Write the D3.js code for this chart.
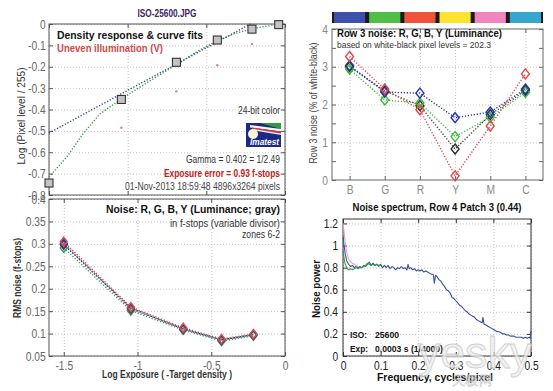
<!DOCTYPE html>
<html>
<head>
<meta charset="utf-8">
<script src="https://cdn.jsdelivr.net/npm/d3@7/dist/d3.min.js"></script>
<style>
body { margin: 0; background: #fff; }
svg { display: block; }
.grid line { stroke: #c4c4c4; stroke-dasharray: 1,2; }
.grid .domain { display: none; }
</style>
</head>
<body>
<svg id="chart" width="553" height="391"></svg>
<script>
// density response (top left)
var zoneLogExp = [-1.5, -1.04, -0.69, -0.43, -0.21, -0.04],
    zoneDensity = [-0.744, -0.353, -0.179, -0.075, -0.024, -0.003],
    unevenLogExp = [-1.04, -0.69, -0.43, -0.21],
    unevenDensity = [-0.485, -0.315, -0.193, -0.094],
    fitLogExp = [-1.5, -0.22],
    fitDensity = [-0.51, 0.0],
    curveLogExp = [-1.5, -1.385, -1.28, -1.175, -1.04, -0.9, -0.69, -0.55, -0.43, -0.32, -0.21, -0.1, -0.04],
    curveDensity = [-0.716, -0.62, -0.51, -0.42, -0.35, -0.285, -0.19, -0.125, -0.078, -0.045, -0.022, -0.008, -0.002],
    densityTicks = [-0.8, -0.7, -0.6, -0.5, -0.4, -0.3, -0.2, -0.1, 0];

// noise in f-stops (bottom left)
var noiseLogExp = [-1.5, -1.045, -0.69, -0.43, -0.214],
    noiseR = [0.305, 0.159, 0.113, 0.088, 0.099],
    noiseG = [0.291, 0.151, 0.108, 0.083, 0.095],
    noiseB = [0.298, 0.157, 0.110, 0.086, 0.098],
    noiseY = [0.301, 0.155, 0.111, 0.086, 0.097],
    noiseTicks = [0.05, 0.1, 0.15, 0.2, 0.25, 0.3, 0.35, 0.4],
    exposureTicks = [-1.5, -1, -0.5, 0];

// row 3 noise (top right)
var patchNames = ['B', 'G', 'R', 'Y', 'M', 'C'],
    patchColors = ['#3d50ae', '#50bf48', '#f0533a', '#fde42c', '#f384c0', '#37a6cf'],
    rowNoiseR = [3.27, 2.41, 1.86, 0.11, 1.43, 2.81],
    rowNoiseG = [2.94, 2.12, 2.04, 1.15, 1.66, 2.32],
    rowNoiseB = [3.03, 2.33, 2.30, 1.65, 1.80, 2.41],
    rowNoiseY = [3.0, 2.36, 1.97, 0.82, 1.73, 2.37],
    rowNoiseTicks = [0, 0.5, 1, 1.5, 2, 2.5, 3, 3.5, 4];

// noise spectrum (bottom right)
var specFreq = [0, 0.003, 0.006, 0.01, 0.015, 0.02, 0.025, 0.03, 0.035, 0.04, 0.045, 0.05, 0.055, 0.06, 0.065, 0.07,
      0.075, 0.08, 0.085, 0.09, 0.095, 0.1, 0.105, 0.11, 0.115, 0.12, 0.125, 0.13, 0.135, 0.14, 0.145, 0.15, 0.155,
      0.16, 0.165, 0.17, 0.173, 0.176, 0.18, 0.185, 0.19, 0.195, 0.2, 0.205, 0.21, 0.215, 0.22, 0.225, 0.23, 0.235,
      0.24, 0.243, 0.246, 0.25, 0.255, 0.26, 0.265, 0.27, 0.275, 0.28, 0.285, 0.29, 0.295, 0.3, 0.305, 0.31, 0.315,
      0.32, 0.325, 0.33, 0.335, 0.34, 0.345, 0.35, 0.355, 0.36, 0.365, 0.37, 0.372, 0.375, 0.38, 0.385, 0.39, 0.395,
      0.4, 0.405, 0.41, 0.415, 0.42, 0.425, 0.43, 0.435, 0.44, 0.445, 0.45, 0.455, 0.46, 0.465, 0.47, 0.475, 0.48,
      0.485, 0.49, 0.495, 0.498, 0.5],
    specBlue = [1.08, 1.0, 0.92, 0.86, 0.83, 0.81, 0.82, 0.80, 0.81, 0.80, 0.81, 0.80, 0.82, 0.81, 0.83, 0.85,
      0.82, 0.84, 0.82, 0.83, 0.81, 0.83, 0.80, 0.82, 0.80, 0.82, 0.79, 0.81, 0.80, 0.78, 0.80, 0.79, 0.81,
      0.79, 0.80, 0.78, 0.83, 0.79, 0.80, 0.78, 0.79, 0.77, 0.78, 0.77, 0.78, 0.76, 0.77, 0.76, 0.75, 0.74,
      0.74, 0.66, 0.73, 0.72, 0.69, 0.68, 0.65, 0.63, 0.60, 0.59, 0.57, 0.53, 0.52, 0.50, 0.48, 0.46, 0.45,
      0.43, 0.41, 0.40, 0.38, 0.37, 0.36, 0.35, 0.33, 0.32, 0.31, 0.30, 0.35, 0.29, 0.28, 0.27, 0.26, 0.25,
      0.24, 0.23, 0.22, 0.22, 0.21, 0.20, 0.20, 0.19, 0.19, 0.18, 0.18, 0.18, 0.17, 0.17, 0.17, 0.17, 0.16,
      0.17, 0.16, 0.17, 0.16, 0.23],
    specGreenFreq = [0, 0.003, 0.006, 0.01, 0.015, 0.02, 0.025, 0.03, 0.035, 0.04, 0.045, 0.05, 0.055, 0.06,
      0.065, 0.07, 0.075, 0.08, 0.085, 0.09, 0.095, 0.1],
    specGreen = [0.95, 0.88, 0.83, 0.80, 0.78, 0.79, 0.78, 0.79, 0.80, 0.79, 0.80, 0.80, 0.81, 0.82,
      0.84, 0.83, 0.82, 0.83, 0.82, 0.83, 0.82, 0.82],
    specPinkFreq = [0, 0.003, 0.006, 0.01, 0.015, 0.02, 0.025, 0.03, 0.035, 0.04],
    specPink = [1.2, 1.12, 1.02, 0.94, 0.88, 0.85, 0.84, 0.83, 0.82, 0.81],
    specFreqTicks = [0, 0.1, 0.2, 0.3, 0.4, 0.5],
    specPowerTicks = [0, 0.2, 0.4, 0.6, 0.8, 1, 1.2];

var FONT = '"Liberation Sans", Arial, sans-serif';

var svg = d3.select('#chart');

function label(g, x, y, s, o) {
  o = o || {};
  var t = g.append('text')
    .attr('x', x).attr('y', y)
    .attr('font-family', FONT)
    .attr('font-size', o.size || 10)
    .attr('font-weight', o.bold ? 'bold' : 'normal')
    .attr('font-style', o.italic ? 'italic' : 'normal')
    .attr('fill', o.color || '#222')
    .attr('text-anchor', o.anchor || 'start')
    .text(s);
  if (o.rotate) t.attr('transform', 'rotate(-90,' + x + ',' + y + ')');
  if (o.width) t.attr('textLength', o.width).attr('lengthAdjust', 'spacingAndGlyphs');
  return t;
}

function num(d) {
  return String(+d.toFixed(2));
}

// tick numbers in the original are a narrow face, squeeze them horizontally
function styleAxis(sel, o) {
  sel.select('.domain').remove();
  sel.selectAll('.tick line').attr('stroke', o.frame);
  sel.selectAll('.tick text')
    .attr('font-family', FONT)
    .attr('font-size', o.tickSize || 11.5)
    .attr('fill', o.tickColor)
    .attr('transform', 'scale(0.82,1)');
}

// dotted grid, inward ticks on all four sides, box
function frame(g, x, y, o) {
  var xr = x.range(), yr = y.range(),
      w = xr[1] - xr[0], h = yr[0] - yr[1];

  g.append('g').attr('class', 'grid').attr('transform', 'translate(0,' + yr[0] + ')')
    .call(d3.axisBottom(x).tickValues(o.xGrid || o.xTicks).tickSize(-h).tickFormat(''));
  g.append('g').attr('class', 'grid').attr('transform', 'translate(' + xr[0] + ',0)')
    .call(d3.axisLeft(y).tickValues(o.yGrid || o.yTicks).tickSize(-w).tickFormat(''));

  g.append('g').attr('transform', 'translate(' + xr[0] + ',0)')
    .call(d3.axisLeft(y).tickValues(o.yTicks).tickSize(-4).tickSizeOuter(0).tickPadding(o.yPad || 4).tickFormat(o.yFormat || ''))
    .call(styleAxis, o);
  g.append('g').attr('transform', 'translate(' + xr[1] + ',0)')
    .call(d3.axisRight(y).tickValues(o.yTicks).tickSize(-4).tickSizeOuter(0).tickFormat(''))
    .call(styleAxis, o);
  g.append('g').attr('transform', 'translate(0,' + yr[0] + ')')
    .call(d3.axisBottom(x).tickValues(o.xTicks).tickSize(-4).tickSizeOuter(0).tickPadding(o.xPad || 6).tickFormat(o.xFormat || ''))
    .call(styleAxis, o);
  g.append('g').attr('transform', 'translate(0,' + yr[1] + ')')
    .call(d3.axisTop(x).tickValues(o.xTicks).tickSize(-4).tickSizeOuter(0).tickFormat(''))
    .call(styleAxis, o);

  g.append('rect')
    .attr('x', xr[0]).attr('y', yr[1]).attr('width', w).attr('height', h)
    .attr('fill', 'none').attr('stroke', o.frame).attr('stroke-width', 1);
}

function dotted(g, x, y, xs, ys, color) {
  var line = d3.line().x(function (d, i) { return x(xs[i]); }).y(function (d) { return y(d); });
  g.append('path').datum(ys)
    .attr('d', line)
    .attr('fill', 'none')
    .attr('stroke', color)
    .attr('stroke-width', 1.4)
    .attr('stroke-dasharray', '1.2,1.8');
}

function solid(g, x, y, xs, ys, color) {
  var line = d3.line().x(function (d, i) { return x(xs[i]); }).y(function (d) { return y(d); });
  g.append('path').datum(ys)
    .attr('d', line)
    .attr('fill', 'none')
    .attr('stroke', color)
    .attr('stroke-width', 1.1)
    .attr('stroke-linejoin', 'round');
}

function diamonds(g, x, y, xs, ys, color, hw, hh) {
  g.selectAll(null).data(ys).enter().append('path')
    .attr('d', function (d, i) {
      var cx = x(xs[i]), cy = y(d);
      return 'M' + cx + ',' + (cy - hh) + 'L' + (cx + hw) + ',' + cy + 'L' + cx + ',' + (cy + hh) + 'L' + (cx - hw) + ',' + cy + 'Z';
    })
    .attr('fill', 'none')
    .attr('stroke', color)
    .attr('stroke-width', 1.4);
}

// ---------- density response ----------
(function () {
  var g = svg.append('g'),
      x = d3.scaleLinear().domain([-1.5, 0]).range([49, 285]),
      y = d3.scaleLinear().domain([-0.8, 0]).range([195, 24]);

  frame(g, x, y, {
    xTicks: exposureTicks, yTicks: densityTicks, yFormat: num,
    frame: '#555', tickColor: '#666', tickSize: 12.5
  });

  dotted(g, x, y, curveLogExp, curveDensity, '#2f9a3e');
  dotted(g, x, y, fitLogExp, fitDensity, '#2c3f96');

  g.selectAll(null).data(unevenDensity).enter().append('circle')
    .attr('cx', function (d, i) { return x(unevenLogExp[i]); })
    .attr('cy', function (d) { return y(d); })
    .attr('r', 1.2)
    .attr('fill', '#e27a7a');

  g.selectAll(null).data(zoneDensity).enter().append('rect')
    .attr('x', function (d, i) { return x(zoneLogExp[i]) - 4; })
    .attr('y', function (d) { return y(d) - 4; })
    .attr('width', 8).attr('height', 8)
    .attr('fill', '#c4c4c4')
    .attr('stroke', '#333')
    .attr('stroke-width', 1.1);

  label(g, 167, 17, 'ISO-25600.JPG', { bold: true, size: 10, color: '#3d2466', anchor: 'middle', width: 59 });
  label(g, 57, 39, 'Density response & curve fits', { bold: true, size: 10.5, color: '#111', width: 146 });
  label(g, 57, 52, 'Uneven illumination (V)', { bold: true, size: 10, color: '#cf4a4a', width: 106 });
  label(g, 280, 114, '24-bit color', { size: 10.5, color: '#333', anchor: 'end', width: 42 });
  label(g, 280, 163, 'Gamma = 0.402 = 1/2.49', { size: 10.5, color: '#333', anchor: 'end', width: 94 });
  label(g, 280, 177, 'Exposure error = 0.93 f-stops', { bold: true, size: 10, color: '#c42020', anchor: 'end', width: 116 });
  label(g, 280, 190, '01-Nov-2013 18:59:48   4896x3264 pixels', { size: 10, color: '#444', anchor: 'end', width: 155 });
  label(g, 25, 116, 'Log (Pixel level / 255)', { size: 10.5, color: '#333', anchor: 'middle', rotate: true, width: 97 });

  // Imatest logo
  var logo = g.append('g').attr('transform', 'translate(246,123)');
  logo.append('rect').attr('width', 35).attr('height', 24).attr('fill', '#1c2a86');
  logo.append('polygon').attr('points', '14,0 35,0 35,6').attr('fill', '#2e9a3a');
  logo.append('polygon').attr('points', '4,2 35,6 35,8.5 4,4.5').attr('fill', '#f4f4f4');
  logo.append('polygon').attr('points', '6,4.5 35,8.5 35,10.5 6,6').attr('fill', '#d23a3a');
  logo.append('polygon').attr('points', '8,6 35,10.5 35,12 8,7.5').attr('fill', '#e8e8f0');
  logo.append('circle').attr('cx', 7).attr('cy', 11).attr('r', 5).attr('fill', '#fff6d6');
  label(logo, 33, 22, 'Imatest', { bold: true, italic: true, size: 8.5, color: '#fff', anchor: 'end', width: 29 });
})();

// ---------- noise in f-stops ----------
(function () {
  var g = svg.append('g'),
      x = d3.scaleLinear().domain([-1.6, 0]).range([49, 285]),
      y = d3.scaleLinear().domain([0.05, 0.4]).range([356, 199]);

  frame(g, x, y, {
    xTicks: exposureTicks, yTicks: noiseTicks, xFormat: num, yFormat: num,
    frame: '#555', tickColor: '#666', tickSize: 12.5, xPad: 5
  });

  dotted(g, x, y, noiseLogExp, noiseG, '#2e9e3a');
  dotted(g, x, y, noiseLogExp, noiseB, '#2828a6');
  dotted(g, x, y, noiseLogExp, noiseR, '#e04040');
  dotted(g, x, y, noiseLogExp, noiseY, '#555');
  diamonds(g, x, y, noiseLogExp, noiseG, '#3a9a4a', 3.5, 4.5);
  diamonds(g, x, y, noiseLogExp, noiseB, '#2a2aa0', 3.5, 4.5);
  diamonds(g, x, y, noiseLogExp, noiseY, '#5a3a5a', 3.5, 4.5);
  diamonds(g, x, y, noiseLogExp, noiseR, '#e04a5a', 3.5, 4.5);

  label(g, 280, 213, 'Noise: R, G, B, Y (Luminance; gray)', { bold: true, size: 10.5, color: '#111', anchor: 'end', width: 174 });
  label(g, 280, 227, 'in f-stops (variable divisor)', { size: 10.5, color: '#333', anchor: 'end', width: 110 });
  label(g, 280, 238, 'zones 6-2', { size: 10.5, color: '#333', anchor: 'end', width: 38 });
  label(g, 167, 378, 'Log Exposure ( -Target density )', { bold: true, size: 10, color: '#333', anchor: 'middle', width: 130 });
  label(g, 21, 278, 'RMS noise (f-stops)', { bold: true, size: 10, color: '#333', anchor: 'middle', rotate: true, width: 80 });
})();

// ---------- row 3 noise ----------
(function () {
  var g = svg.append('g'),
      x = d3.scaleLinear().domain([0.5, 6.5]).range([332, 543]),
      y = d3.scaleLinear().domain([0, 4]).range([180, 29]),
      idx = d3.range(1, patchNames.length + 1);

  // colour strip above the axes
  g.append('rect').attr('x', x(0.5)).attr('y', 12).attr('width', x(6.5) - x(0.5)).attr('height', 11).attr('fill', '#1a1a1a');
  g.selectAll(null).data(patchColors).enter().append('rect')
    .attr('x', function (d, i) { return x(i + 0.5) + 2; })
    .attr('y', 12)
    .attr('width', function (d, i) { return x(i + 1.5) - x(i + 0.5) - 4; })
    .attr('height', 11)
    .attr('fill', function (d) { return d; });

  frame(g, x, y, {
    xTicks: idx, yTicks: rowNoiseTicks, yGrid: [1, 2, 3],
    xFormat: function (d) { return patchNames[d - 1]; },
    yFormat: function (d) { return d % 1 === 0 ? String(d) : ''; },
    frame: '#666', tickColor: '#888', tickSize: 12.5, yPad: 5, xPad: 5
  });

  dotted(g, x, y, idx, rowNoiseY, '#444');
  dotted(g, x, y, idx, rowNoiseG, '#3cb83c');
  dotted(g, x, y, idx, rowNoiseB, '#2530b0');
  dotted(g, x, y, idx, rowNoiseR, '#e04848');
  diamonds(g, x, y, idx, rowNoiseY, '#333', 4, 5);
  diamonds(g, x, y, idx, rowNoiseG, '#3cb83c', 4, 5);
  diamonds(g, x, y, idx, rowNoiseB, '#2530b0', 4, 5);
  diamonds(g, x, y, idx, rowNoiseR, '#e04848', 4, 5);

  label(g, 337, 37, 'Row 3 noise: R, G, B, Y (Luminance)', { bold: true, size: 10, color: '#111', width: 165 });
  label(g, 337, 48, 'based on white-black pixel levels = 202.3', { size: 9.5, color: '#333', width: 154 });
  label(g, 317, 103, 'Row 3 noise (% of white-black)', { size: 10.5, color: '#444', anchor: 'middle', rotate: true, width: 121 });
})();

// ---------- noise spectrum ----------
(function () {
  var g = svg.append('g'),
      x = d3.scaleLinear().domain([0, 0.5]).range([343, 531]),
      y = d3.scaleLinear().domain([0, 1.24]).range([356, 219]);

  frame(g, x, y, {
    xTicks: specFreqTicks, yTicks: specPowerTicks, xFormat: num, yFormat: num,
    frame: '#333', tickColor: '#222', tickSize: 12.5, yPad: 6, xPad: 5
  });

  solid(g, x, y, specFreq, specBlue, '#3b4f9c');
  solid(g, x, y, specPinkFreq, specPink, '#e6a2c4');
  solid(g, x, y, specGreenFreq, specGreen, '#3a9a3a');

  label(g, 350, 338, 'ISO:', { bold: true, size: 9.5, color: '#111', width: 17 });
  label(g, 375, 338, '25600', { bold: true, size: 9.5, color: '#111', width: 24 });
  label(g, 350, 352, 'Exp:', { bold: true, size: 9.5, color: '#111', width: 18 });
  label(g, 375, 352, '0.0003 s  (1/4000)', { bold: true, size: 9.5, color: '#111', width: 68 });

  label(g, 437, 211, 'Noise spectrum, Row 4 Patch 3 (0.44)', { bold: true, size: 10, color: '#111', anchor: 'middle', width: 169 });
  label(g, 435, 381, 'Frequency, cycles/pixel', { bold: true, size: 10.5, color: '#111', anchor: 'middle', width: 116 });
  label(g, 320, 289, 'Noise power', { bold: true, size: 11, color: '#111', anchor: 'middle', rotate: true, width: 58 });

  // site watermark
  label(g, 418, 368, 'yesky', { size: 44, color: '#eeeeee', width: 114 })
    .attr('stroke', '#bdbdbd').attr('stroke-width', 0.8).attr('opacity', 0.75);
  label(g, 452, 385, '天极网', { size: 13, color: '#e6e6e6', width: 40 })
    .attr('stroke', '#bdbdbd').attr('stroke-width', 0.5).attr('opacity', 0.75);
})();
</script>
</body>
</html>
